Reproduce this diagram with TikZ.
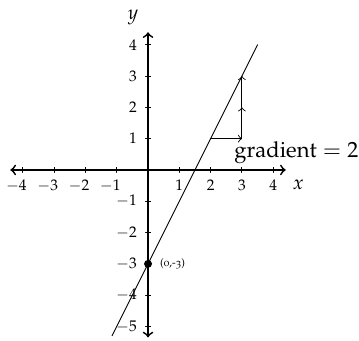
\documentclass[tikz,border=0pt]{standalone}
\usepackage[T1]{fontenc}
\usepackage[osf]{mathpazo}
\usetikzlibrary{positioning}

\begin{document}
\begin{tikzpicture}[x=0.5cm,y=0.5cm,line cap=round,line join=round,>=to,ticklab/.style={font=\scriptsize,inner sep=0.5pt}]
  \useasboundingbox (-4.73,-5.46) rectangle (6.74,5.43);
  \coordinate (O) at (0,0);
  \coordinate (XL) at (-4.4,0);\coordinate (XR) at (4.4,0);
  \coordinate (YB) at (0,-5.35);\coordinate (YT) at (0,4.4);
  \draw[thick,<->] (XL)--(XR);
  \draw[thick,<->] (YB)--(YT);
  \foreach \k in {-4,...,4}{\draw (\k,-0.08)--(\k,0.08);}
  \foreach \k in {-5,...,4}{\draw (-0.08,\k)--(0.08,\k);}
  \foreach \k in {1,...,4}{\node[ticklab] at (\k,-0.5) {$\k$};\node[ticklab] at (-0.48,\k) {$\k$};}
  \foreach \k in {1,...,4}{\node[ticklab] at (-\k,-0.5) {\llap{$-$}$\k$};}
  \foreach \k in {1,...,5}{\node[ticklab] at (-0.48,-\k) {\llap{$-$}$\k$};}
  \node[font=\small] (xlab) at (4.8,-0.48) {$x$};
  \node[font=\small] (ylab) at (-0.48,4.86) {$y$};
  % y = 2x - 3
  \coordinate (L1) at (-1.15,-5.3);\coordinate (L2) at (3.5,4);
  \draw (L1)--(L2);
  \coordinate (P) at (2,1);\coordinate (Q) at (3,1);\coordinate (R) at (3,2);\coordinate (S) at (3,3);
  \draw[->] (P)--(Q);\draw[->] (Q)--(R);\draw[->] (R)--(S);
  \node[circle,fill,inner sep=0pt,minimum size=3.6pt] (yint) at (0,-3) {};
  \node[font=\tiny,right=0pt of yint] (yintlab) {(0,-3)};
  \node (grad) at (4.74,0.55) {gradient${}=2$};
\end{tikzpicture}
\end{document}
